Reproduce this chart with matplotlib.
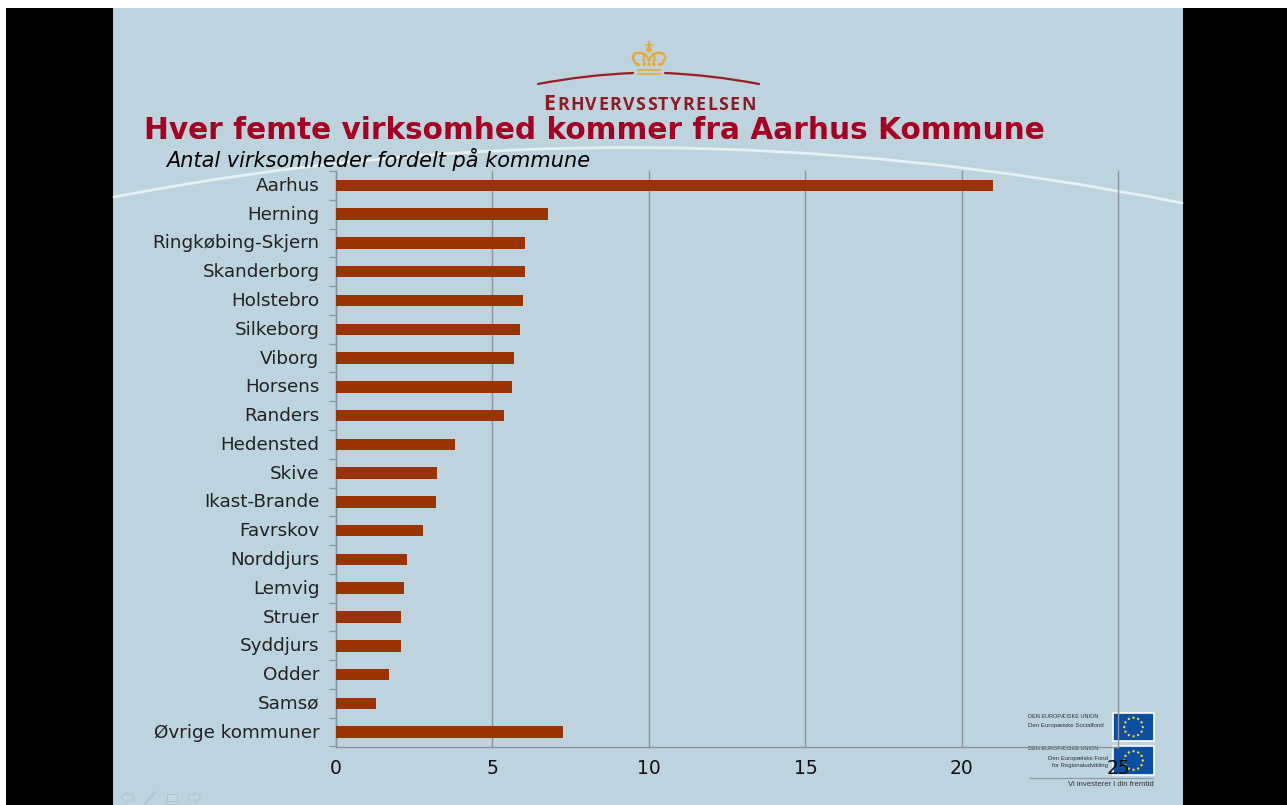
import numpy as np
import matplotlib
matplotlib.use("Agg")
import matplotlib.pyplot as plt
from matplotlib.patches import Rectangle, Polygon, Circle, PathPatch
from matplotlib.path import Path
from matplotlib.transforms import offset_copy

W, H = 1287, 805
BG = "#BDD3DE"
BAR = "#993300"
RED = "#A50021"
GOLD = "#E5A93C"
LOGO = "#8E1B22"
GRID = "#8C9499"

kommuner = ["Aarhus", "Herning", "Ringkøbing-Skjern", "Skanderborg", "Holstebro",
            "Silkeborg", "Viborg", "Horsens", "Randers", "Hedensted", "Skive",
            "Ikast-Brande", "Favrskov", "Norddjurs", "Lemvig", "Struer", "Syddjurs",
            "Odder", "Samsø", "Øvrige kommuner"]
andel = [21.0, 6.78, 6.04, 6.04, 5.98, 5.88, 5.69, 5.63, 5.38, 3.8, 3.23, 3.2,
         2.78, 2.27, 2.17, 2.09, 2.09, 1.69, 1.27, 7.26]
xticks = [0, 5, 10, 15, 20, 25]

fig = plt.figure(figsize=(W / 100, H / 100), dpi=100, facecolor="white")

# page layer, in pixels of the slide
bg = fig.add_axes([0, 0, 1, 1], zorder=0)
bg.set_xlim(0, W); bg.set_ylim(H, 0); bg.axis("off")
bg.add_patch(Rectangle((6, 8), W - 6, H - 8, color="black", lw=0))
bg.add_patch(Rectangle((113, 8), 1070, H - 8, color=BG, lw=0))


def curve(pts, color, lw):
    codes = [Path.MOVETO] + [Path.CURVE3] * (len(pts) - 1)
    bg.add_patch(PathPatch(Path(pts, codes), fc="none", ec=color, lw=lw, capstyle="round"))


# white arc behind the chart
curve([(114, 197), (640, 95), (1182, 203)], "#E9F0F3", 2.0)

# crown and logo
curve([(538, 84), (585, 75), (633, 73)], "#9B1C22", 1.6)
curve([(665, 73), (712, 75), (759, 84)], "#9B1C22", 1.6)
bg.plot([638, 660], [70.5, 70.5], color=GOLD, lw=1.3)
bg.plot([638, 660], [74, 74], color=GOLD, lw=1.3)
bg.plot([649, 649], [42, 50], color=GOLD, lw=1.3)
bg.plot([646, 652], [45, 45], color=GOLD, lw=1.3)
bg.add_patch(Circle((649, 49.5), 2.8, fc=GOLD, ec="none"))
for sgn in (-1, 1):
    curve([(649 + sgn * 12, 65), (649 + sgn * 17, 59), (649 + sgn * 16, 56),
           (649 + sgn * 14, 52), (649 + sgn * 8, 53), (649 + sgn * 2, 54), (649, 61)], GOLD, 1.7)
    curve([(649 + sgn * 4, 64), (649 + sgn * 7, 57), (649 + sgn * 4, 54)], GOLD, 1.5)
for cx in (638.5, 644, 649, 654, 659.5):
    bg.add_patch(Circle((cx, 64.5), 1.7, fc=GOLD, ec="none"))

# logo name in small caps, spaced out by hand
renderer = fig.canvas.get_renderer()
logo_letters = list("ERHVERVSSTYRELSEN")
logo_sizes = [15.5] + [12.8] * (len(logo_letters) - 1)
logo_txt = [bg.text(0, 109.5, c, fontsize=s, fontweight="bold", color=LOGO, family="Open Sans",
                    va="baseline", ha="left") for c, s in zip(logo_letters, logo_sizes)]
widths = [t.get_window_extent(renderer).width for t in logo_txt]
gap = (755.5 - 543.5 - sum(widths)) / (len(widths) - 1)
pos = 543.5
for t, w_ in zip(logo_txt, widths):
    t.set_x(pos)
    pos += w_ + gap

# EU logos
for top, h in ((713, 28), (746, 29)):
    bg.add_patch(Rectangle((1113, top), 41, h, fc="#0B4EA2", ec="white", lw=1.2))
    cy = top + h / 2
    for a in np.arange(0, 360, 30):
        bg.add_patch(Circle((1133.5 + 9.3 * np.cos(np.radians(a)), cy + 9.3 * np.sin(np.radians(a))),
                            1.2, fc="#F5D90A", ec="none"))
small = dict(color="#333333", family="Liberation Sans", va="center")
bg.text(1028, 716, "DEN EUROPÆISKE UNION", ha="left", fontsize=4.0, **small)
bg.text(1028, 725, "Den Europæiske Socialfond", ha="left", fontsize=4.4, **small)
bg.text(1028, 748.5, "DEN EUROPÆISKE UNION", ha="left", fontsize=4.0, **small)
bg.text(1108, 758, "Den Europæiske Fond", ha="right", fontsize=4.3, **small)
bg.text(1108, 765.5, "for Regionaludvikling", ha="right", fontsize=4.3, **small)
bg.plot([1029, 1153], [778, 778], color="#8E9EA6", lw=0.9)
bg.text(1154, 784.5, "Vi investerer i din fremtid", ha="right", fontsize=5.6, **small)

# slide navigation icons
NAV = "#AFC3CE"
NAV_FC = "#C3D6E0"
bg.add_patch(Polygon([(121, 797), (127, 792), (127, 795), (133, 795), (133, 800), (127, 800), (127, 803)],
                     fc=NAV_FC, ec=NAV, lw=0.7))
bg.plot([145, 155], [803, 792], color=NAV, lw=1.3)
bg.add_patch(Rectangle((167, 794), 10, 7, fc=NAV_FC, ec=NAV, lw=0.7))
bg.add_patch(Polygon([(201, 797), (195, 792), (195, 795), (189, 795), (189, 800), (195, 800), (195, 803)],
                     fc=NAV_FC, ec=NAV, lw=0.7))

# titles
bg.text(144, 139, "Hver femte virksomhed kommer fra Aarhus Kommune", fontsize=21.35,
        fontweight="bold", color=RED, family="DejaVu Sans", va="baseline", ha="left")
bg.text(166, 167, "Antal virksomheder fordelt på kommune", fontsize=15, fontstyle="italic",
        color="black", family="DejaVu Sans", va="baseline", ha="left")

# chart
ax = fig.add_axes([336 / W, 1 - 746.5 / H, (1118.5 - 336) / W, (746.5 - 171) / H], zorder=2)
ax.patch.set_alpha(0)
y = np.arange(len(kommuner))
ax.barh(y, andel, height=0.4, color=BAR, zorder=3)
ax.set_xlim(0, 25)
ax.set_ylim(len(kommuner) - 0.5, -0.5)
ax.set_xticks(xticks)
ax.set_yticks(y, kommuner)
ax.set_yticks(np.arange(len(kommuner) + 1) - 0.5, minor=True)
ax.grid(True, axis="x", color=GRID, lw=1, zorder=1)
for g in ax.get_xgridlines():
    g.set_clip_on(False)
ax.tick_params(axis="y", which="major", length=0, pad=12, labelsize=13.2, labelcolor="#222222")
ax.tick_params(axis="y", which="minor", length=5, width=0.9, color=GRID)
ax.tick_params(axis="x", length=0, pad=9, labelsize=13.5, labelcolor="#111111")
for lab in ax.get_yticklabels():
    lab.set_transform(offset_copy(lab.get_transform(), fig=fig, y=1.5, units="dots"))
for s in ("top", "right"):
    ax.spines[s].set_visible(False)
for s in ("left", "bottom"):
    ax.spines[s].set_color(GRID)
    ax.spines[s].set_linewidth(1)

fig.savefig("out.png", dpi=100, facecolor=fig.get_facecolor())
